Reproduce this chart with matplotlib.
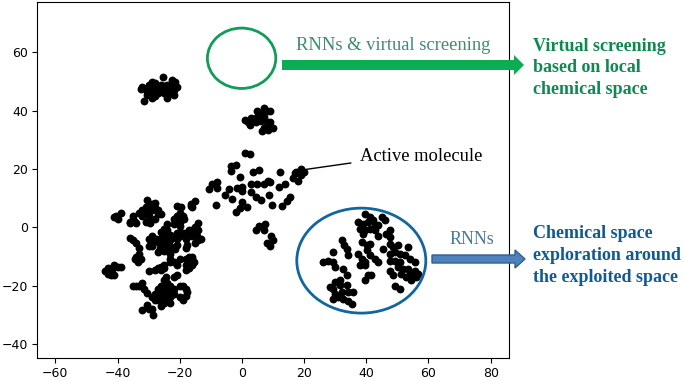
import matplotlib
matplotlib.use("Agg")
import matplotlib.pyplot as plt
from matplotlib.lines import Line2D
from matplotlib.patches import Ellipse, FancyArrow
from matplotlib.transforms import IdentityTransform

# t-SNE clusters, values
top_left = [(-32, 48), (-31, 47), (-30.5, 45.5), (-31.5, 43.5), (-30, 49), (-29, 50), (-28.5, 47), (-28, 45),
            (-27, 46), (-27, 48.5), (-26, 47), (-25.5, 51.5), (-25, 48.5), (-24, 49), (-24, 47), (-23, 46),
            (-23, 48), (-22, 47), (-22, 49.5), (-21.5, 50), (-21, 48), (-22, 45.5), (-24, 44.5), (-32.5, 47.5),
            (-29, 44.5), (-26, 49), (-22.5, 50.5), (-30, 46.5), (-25, 46), (-28, 49.5)]
top_mid = [(1, 37), (2, 36), (3, 37.5), (2.5, 35), (4.5, 36), (5, 38), (6, 39), (6, 36.5), (7, 41), (7, 38),
           (8, 40), (9, 40), (7, 34), (6.5, 33), (8, 36), (9, 34.5), (10, 34), (8.5, 33.5), (5, 40), (9, 36)]
centre = [(1, 25.5), (2.5, 25), (-3.5, 21), (-2, 21.5), (-3.5, 19.5), (-0.6, 17.2), (3.6, 19), (5.5, 19.6),
          (12.2, 19), (16.5, 17), (17.5, 19), (18, 16), (19, 18), (19, 20), (20, 19), (17, 18.5),
          (-10.5, 13), (-9.5, 15), (-8, 15.5), (-8, 13.5), (-5.5, 11), (-4, 13), (-1.5, 13.5), (0, 14), (0, 12.5),
          (3, 15), (5, 15), (7, 15), (8.5, 16), (9, 15.5), (12, 14), (14, 15), (-3.3, 9.6), (-8.4, 7.6),
          (-16.5, 7.5), (-15, 9), (3, 12), (4.5, 10.5), (6, 9.5), (8.7, 11), (9.7, 7.6), (15.5, 10.5),
          (14.5, 9), (13, 7.5), (0, 8.6), (-0.6, 6.5), (-1.9, 5.2), (1.5, 7), (4.5, -1), (5.5, 0.5),
          (7.5, 1), (7, -1), (8, -5.5), (9, -6.5), (10, -4.5), (9.5, -3)]
left_upper = [(-33, 5), (-32, 4), (-32, 6), (-31, 7), (-31, 5), (-30.5, 9.5), (-30, 7), (-30, 4), (-29, 6), (-29, 8),
              (-28, 6.5), (-28, 8.5), (-27, 6), (-27, 4.5), (-26, 4.5), (-28, 3), (-30, 2), (-31, 2), (-29.5, 1.5),
              (-41, 3.5), (-40, 3), (-40.5, 4), (-39, 5), (-36, 2), (-35, 4), (-34.5, 2), (-36, 1.5), (-34, 1.5),
              (-35, 3), (-21, 7.5), (-19.5, 7), (-16, 7), (-16.5, 8), (-20, 5), (-21, 4), (-19, 4), (-22, 3),
              (-20, 3), (-18.5, 3), (-24, 1), (-22, 1), (-20, 0.5), (-20, 2)]
left_column = [(-27, -8.5), (-26.5, -7), (-26, -5.5), (-26, -3.5), (-26, -1.5), (-25, -8), (-25, -6), (-25, -4),
               (-25, -2), (-25, -0.5), (-24, -7), (-24, -5), (-24, -3), (-24, -1), (-23.5, -8), (-23, -2.5),
               (-23, -4.5), (-23, -6.5), (-27, -5), (-27.5, -4), (-22, -3), (-21, -2), (-21, -4), (-20, -1.5),
               (-20, -3), (-21, -6), (-19, -2), (-18, -2), (-18, -4), (-17.5, -6), (-18, -7), (-17, -1), (-16, -1),
               (-16, -3), (-15, -2), (-15, 0), (-14, 1.5), (-14.5, -3), (-14, -4.5), (-13, -4), (-15, -5.5),
               (-14, -1), (-21.5, -7.5), (-36, -3.5), (-35, -4.5), (-34, -5.5), (-30, -4), (-29, -3), (-29, -5),
               (-29, -6.5), (-30, -6.5), (-33, -7), (-33, -9), (-33, -10.5), (-34, -10), (-33.5, -12), (-32.5, -11),
               (-34.5, -11), (-23, -9), (-23, -11), (-22, -12), (-21, -13), (-23, -12), (-20, -11), (-18, -13),
               (-18, -11), (-17, -12), (-17, -10), (-16, -11), (-16, -13), (-18, -14.5), (-17, -14), (-15.5, -12),
               (-16, -10)]
left_lower = [(-44, -15), (-43, -14), (-43, -16), (-42, -15), (-42, -16.5), (-41, -16.5), (-41.5, -14), (-41, -13),
              (-40, -13.5), (-39, -13.5), (-30, -15), (-28, -14.5), (-27, -14), (-26, -13.5), (-25, -14), (-25, -13),
              (-26, -14.5), (-35, -20), (-34, -20), (-33, -20), (-32, -19), (-31.5, -21), (-30.5, -22.5), (-29, -24),
              (-28, -23), (-28, -25), (-27, -21), (-27, -23), (-27, -25), (-26, -20), (-26, -22), (-26, -24),
              (-26, -27), (-25, -18), (-25, -20), (-25, -22), (-25, -24), (-25, -26), (-24, -19), (-24, -21),
              (-24, -23), (-24, -25), (-23, -20), (-23, -22), (-23, -24), (-22, -21), (-22, -23), (-22, -17),
              (-21, -16.5), (-20, -20), (-19, -20), (-18, -21), (-17.5, -22), (-18, -23.5), (-20, -24), (-19, -25),
              (-23, -26), (-24.5, -17), (-32, -28.5), (-30.5, -26.5), (-30, -28), (-29, -28), (-28.5, -30)]
right_blob = [(39.6, 4.7), (41.2, 3.5), (42.2, 2.4), (40.6, 1.8), (44.9, 3.5), (46, 2.4), (37.4, 1.8), (39, 1.3),
              (38, -0.5), (39.6, -1), (39, -2.2), (41.2, -0.5), (42.8, -1), (43.8, -2.8), (42.8, 0.7), (43.8, 0.7),
              (47.6, -1), (46.5, -2.2), (47.6, -3.3), (38.5, -5), (40.1, -6.2), (41.2, -5.6), (40.1, -7.9),
              (41.2, -9.6), (42.8, -10.8), (43.8, -11.9), (37.4, -9), (38.5, -10.8), (39.6, -11.9), (38, -13),
              (39.6, -13), (45.4, -7.3), (32.3, -4.5), (32.9, -6.2), (33.7, -7.3), (34.2, -9.6), (29.4, -8.5),
              (27.8, -11.4), (26.2, -11.9), (29.4, -11.9), (29.9, -13.6), (40.6, -16.5), (39.6, -17.9), (41.4, -16.2),
              (32.6, -14.2), (33.7, -16.5), (31.5, -18.2), (29.9, -18.8), (28.3, -20.5), (29.4, -21.1), (29.9, -22.8),
              (29.4, -24.5), (31, -24), (32.1, -22.2), (32.6, -24.5), (34.2, -22.2), (35.8, -22.2), (34.2, -25.1),
              (35.3, -26.2), (31.5, -19.9), (33.7, -19.9), (47.6, -5.6), (48.6, -6.8), (50.3, -6.2), (53.5, -6.8),
              (47.6, -9), (49.2, -8.5), (50.8, -9), (52.4, -9.6), (47.6, -11.4), (49.2, -11.4), (50.8, -11.9),
              (54, -10.8), (55.6, -11.9), (47.6, -14.8), (48.6, -16.5), (50.3, -13.6), (51.9, -14.2), (53.5, -14.2),
              (51.3, -15.9), (52.9, -17.1), (54.5, -18.2), (54, -15.9), (55.6, -14.8), (56.7, -15.9), (56.1, -17.1),
              (49.2, -20), (50.8, -21.1)]
clusters = [top_left, top_mid, centre, left_upper, left_column, left_lower, right_blob]

xticks = [-60, -40, -20, 0, 20, 40, 60, 80]
yticks = [-40, -20, 0, 20, 40, 60]
green_label = "Virtual screening\nbased on local\nchemical space"
blue_label = "Chemical space\nexploration around\nthe exploited space"

W, H = 685, 382
SERIF = "Liberation Serif"


def label(x, y, s, **kw):
    # x, y in pixels of the picture, y going down
    fig.text(x / W, 1 - y / H, s, family=SERIF, **kw)


fig = plt.figure(figsize=(W / 100, H / 100), dpi=100)
ax = fig.add_axes([37 / W, 1 - 358 / H, (509 - 37) / W, (358 - 2) / H])

for cluster in clusters:
    xs = [p[0] for p in cluster]
    ys = [p[1] for p in cluster]
    ax.scatter(xs, ys, s=32, c="black", linewidths=0)

ax.set_xlim(-65.9, 85.9)
ax.set_ylim(-44.8, 77.3)
ax.set_xticks(xticks)
ax.set_yticks(yticks)
ax.tick_params(labelsize=9, length=3.5, width=0.8, pad=3)

ax.add_patch(Ellipse((-0.1, 58), 22, 20.7, fill=False, ec="#0f9d58", lw=2))
ax.add_patch(Ellipse((38.4, -11.4), 41.5, 36, fill=False, ec="#10669f", lw=2))

# arrows go over the axes frame so they live on the figure, in pixels
fig.add_artist(FancyArrow(282, H - 65, 242, 0, width=10, head_width=20, head_length=10,
                          length_includes_head=True, fc="#0aad52", ec="#0aad52", lw=0,
                          transform=IdentityTransform()))
fig.add_artist(FancyArrow(432, H - 259, 93, 0, width=8, head_width=18, head_length=10,
                          length_includes_head=True, fc="#4f81bd", ec="#2f5f90", lw=1,
                          transform=IdentityTransform()))
fig.add_artist(Line2D([306.7, 350.7], [H - 169.3, H - 163], color="black", lw=1,
                      transform=IdentityTransform()))

label(296, 45, "RNNs & virtual screening", color="#3c8c70", fontsize=13.3, va="center")
label(360, 157, "Active molecule", color="black", fontsize=13.3, va="center")
label(450, 240, "RNNs", color="#457a9c", fontsize=13, va="center")
label(533, 68, green_label, color="#0e8a50", fontsize=13, weight="bold", va="center", linespacing=1.36)
label(533, 255.5, blue_label, color="#0f5a94", fontsize=13, weight="bold", va="center", linespacing=1.36)

fig.savefig("out.png", dpi=100)
